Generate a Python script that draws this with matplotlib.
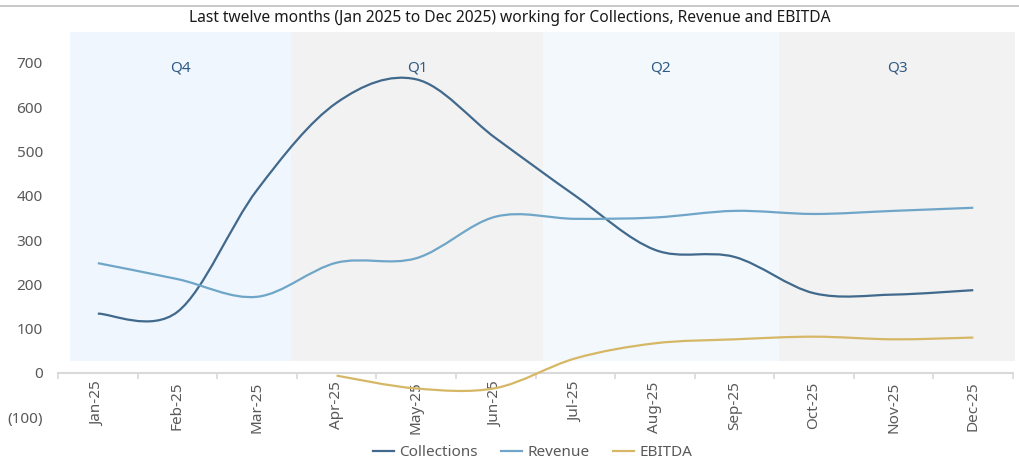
import numpy as np
import matplotlib
matplotlib.use("Agg")
import matplotlib.pyplot as plt
from matplotlib.path import Path
from matplotlib.patches import PathPatch
from matplotlib.lines import Line2D
from matplotlib.ticker import FuncFormatter

plt.rcParams['font.family'] = ['Noto Sans', 'DejaVu Sans']

months = ['Jan-25', 'Feb-25', 'Mar-25', 'Apr-25', 'May-25', 'Jun-25',
          'Jul-25', 'Aug-25', 'Sep-25', 'Oct-25', 'Nov-25', 'Dec-25']
collections = [134, 138, 413, 610, 663, 530, 400, 278, 262, 180, 177, 187]
revenue = [248, 212, 172, 249, 259, 353, 348, 351, 366, 359, 366, 373]
ebitda = [None, None, None, -6, -35, -34, 33, 67, 76, 82, 76, 80]

quarters = ['Q4', 'Q1', 'Q2', 'Q3']
quarter_edges = [-0.35, 2.43, 5.59, 8.56, 11.53]
band_range = (28, 770)

colors = {'Collections': '#41698c', 'Revenue': '#6fa6c8', 'EBITDA': '#d6b765'}
band_colors = ['#eff6fd', '#f2f2f2', '#f3f8fd', '#f2f2f2']


def smooth_path(xs, ys):
    # Excel-style smoothed line: Catmull-Rom segments as cubic beziers
    pts = [(x, y) for x, y in zip(xs, ys) if y is not None]
    verts = [pts[0]]
    codes = [Path.MOVETO]
    n = len(pts)
    for i in range(n - 1):
        p0 = np.array(pts[max(i - 1, 0)])
        p1 = np.array(pts[i])
        p2 = np.array(pts[i + 1])
        p3 = np.array(pts[min(i + 2, n - 1)])
        c1 = p1 + (p2 - p0) / 6
        c2 = p2 - (p3 - p1) / 6
        verts += [tuple(c1), tuple(c2), tuple(p2)]
        codes += [Path.CURVE4] * 3
    return Path(verts, codes)


fig = plt.figure(figsize=(10.2, 4.62), dpi=100)
ax = fig.add_axes([0.0569, 0.0872, 0.9363, 0.8533])
ax.set_xlim(-0.5, 11.5)
ax.set_ylim(-110, 780)

# quarter bands
lefts = quarter_edges[:-1]
widths = np.diff(quarter_edges)
ax.bar(lefts, band_range[1] - band_range[0], width=widths, bottom=band_range[0],
       align='edge', color=band_colors, zorder=0, linewidth=0, clip_on=False)
for q, l, w in zip(quarters, lefts, widths):
    ax.text(l + w / 2, 689, q, ha='center', va='center', color='#2f5b85', fontsize=11)

x = np.arange(len(months))
series = [('Collections', collections), ('Revenue', revenue), ('EBITDA', ebitda)]
for name, vals in series:
    ax.add_patch(PathPatch(smooth_path(x, vals), fill=False, edgecolor=colors[name],
                           linewidth=1.6, zorder=3, capstyle='butt'))

for s in ['top', 'right', 'left']:
    ax.spines[s].set_visible(False)
ax.spines['bottom'].set_position(('data', 0))
ax.spines['bottom'].set_color('#d9d9d9')
ax.spines['bottom'].set_linewidth(1.5)

ax.set_xticks(x)
ax.set_xticklabels(months, rotation=90, color='#595959', fontsize=11)
ax.set_xticks(np.arange(-0.5, 12, 1), minor=True)
ax.tick_params(axis='x', which='major', length=0, pad=6)
ax.tick_params(axis='x', which='minor', length=4, color='#d9d9d9', width=1.2)

ax.set_yticks(range(-100, 701, 100))
ax.yaxis.set_major_formatter(FuncFormatter(lambda v, p: f'({abs(int(v))})' if v < 0 else f'{int(v)}'))
ax.tick_params(axis='y', length=0, pad=11, labelcolor='#595959', labelsize=11)

handles = [Line2D([], [], color=colors[n], lw=1.6) for n, _ in series]
fig.legend(handles, [n for n, _ in series], loc='center', bbox_to_anchor=(0.522, 0.02),
           ncol=3, frameon=False, fontsize=11, handlelength=1.4, handletextpad=0.35,
           columnspacing=1.5, labelcolor='#595959')

fig.text(0.5, 0.962, 'Last twelve months (Jan 2025 to Dec 2025) working for Collections, Revenue and EBITDA',
         ha='center', va='center', fontsize=11.2, color='#1a1a1a')
fig.add_artist(Line2D([0, 1], [0.987, 0.987], color='#bfbfbf', lw=1.2, transform=fig.transFigure))

fig.savefig('out.png', dpi=100)
